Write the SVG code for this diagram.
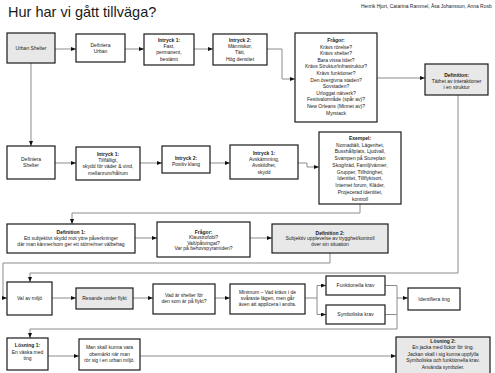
<svg xmlns="http://www.w3.org/2000/svg" width="495" height="373" viewBox="0 0 495 373">
<style>
.box{fill:#fff;stroke:#1a1a1a;stroke-width:1.2}
.g{fill:#e8e8e8}
text{font-family:"Liberation Sans",Arial,sans-serif;fill:#1a1a1a}
.t{font-size:5px;text-anchor:middle}
.b{font-weight:bold}
.c{fill:none;stroke:#8c8c8c;stroke-width:1}
</style>
<defs>
<marker id="a" markerUnits="userSpaceOnUse" markerWidth="5" markerHeight="4" refX="5" refY="2" orient="auto">
<path d="M0,0 L5,2 L0,4 Z" fill="#111"/>
</marker>
</defs>
<rect width="495" height="373" fill="#fff"/>
<text x="8" y="17" font-size="14.5">Hur har vi gått tillväga?</text>
<text x="361" y="8" font-size="4.95">Henrik Hjort, Catarina Rammel, Åsa Johansson, Anna Rosb</text>

<g id="connectors">
<path class="c" d="M55,49 H76" marker-end="url(#a)"/>
<path class="c" d="M125,49 H144" marker-end="url(#a)"/>
<path class="c" d="M194,49 H213" marker-end="url(#a)"/>
<path class="c" d="M267,49 H282 V79 H295" marker-end="url(#a)"/>
<path class="c" d="M377,78 H425" marker-end="url(#a)"/>
<path class="c" d="M31,63 V146" marker-end="url(#a)"/>
<path class="c" d="M55,163 H76" marker-end="url(#a)"/>
<path class="c" d="M140,163 H162" marker-end="url(#a)"/>
<path class="c" d="M210,163 H230" marker-end="url(#a)"/>
<path class="c" d="M298,163 H307 V167 H319" marker-end="url(#a)"/>
<path class="c" d="M360,204 V213 H72 V224" marker-end="url(#a)"/>
<path class="c" d="M135,238 H157" marker-end="url(#a)"/>
<path class="c" d="M250,238 H272" marker-end="url(#a)"/>
<path class="c" d="M330,253 V263 H3 V298 H7" marker-end="url(#a)"/>
<path class="c" d="M458,95 V273 H30 V282" marker-end="url(#a)"/>
<path class="c" d="M52,298 H76" marker-end="url(#a)"/>
<path class="c" d="M133,298 H153" marker-end="url(#a)"/>
<path class="c" d="M215,298 H230" marker-end="url(#a)"/>
<path class="c" d="M305,298 H317 V285.5 H326" marker-end="url(#a)"/>
<path class="c" d="M317,298 V314.5 H326" marker-end="url(#a)"/>
<path class="c" d="M385,285.5 H397 V329 H30 V338" marker-end="url(#a)"/>
<path class="c" d="M385,314.5 H397"/>
<path class="c" d="M397,298 H408" marker-end="url(#a)"/>
<path class="c" d="M48,356 H79" marker-end="url(#a)"/>
<path class="c" d="M140,356 H396" marker-end="url(#a)"/>
</g>

<g id="urban-shelter"><rect class="box g" x="7" y="33" width="48" height="30"/><text class="t" x="31" y="50">Urban Shelter</text></g>
<g id="definiera-urban"><rect class="box" x="76" y="34" width="49" height="28"/><text class="t" x="100.5" y="46.5">Definiera</text><text class="t" x="100.5" y="52.5">Urban</text></g>
<g id="intryck1-urban"><rect class="box" x="144" y="34" width="50" height="31"/><text class="t b" x="169" y="42">Intryck 1:</text><text class="t" x="169" y="48.2">Fast,</text><text class="t" x="169" y="54.4">permanent,</text><text class="t" x="169" y="60.6">bestämt</text></g>
<g id="intryck2-urban"><rect class="box" x="213" y="34" width="54" height="31"/><text class="t b" x="240" y="42">Intryck 2:</text><text class="t" x="240" y="48.2">Människor,</text><text class="t" x="240" y="54.4">Tätt,</text><text class="t" x="240" y="60.6">Hög densitet</text></g>
<g id="fragor1"><rect class="box" x="295" y="33" width="82" height="89"/>
<text class="t b" x="336" y="42">Frågor:</text>
<text class="t" x="336" y="48.6">Krävs rörelse?</text>
<text class="t" x="336" y="55.2">Krävs shelter?</text>
<text class="t" x="336" y="61.8">Bara vissa tider?</text>
<text class="t" x="336" y="68.4">Krävs Struktur/infrastruktur?</text>
<text class="t" x="336" y="75">Krävs funktioner?</text>
<text class="t" x="336" y="81.6">Den övergivna staden?</text>
<text class="t" x="336" y="88.2">Sovstaden?</text>
<text class="t" x="336" y="94.8">Urloggat nätverk?</text>
<text class="t" x="336" y="101.4">Festivalområde (spår av)?</text>
<text class="t" x="336" y="108">New Orleans (Minnet av)?</text>
<text class="t" x="336" y="114.6">Myrstack</text></g>
<g id="definition"><rect class="box g" x="425" y="64" width="63" height="31"/><text class="t b" x="456.5" y="77">Definition:</text><text class="t" x="456.5" y="83">Täthet av interaktioner</text><text class="t" x="456.5" y="89">i en struktur</text></g>

<g id="definiera-shelter"><rect class="box" x="7" y="146" width="48" height="33"/><text class="t" x="31" y="161">Definiera</text><text class="t" x="31" y="167">Shelter</text></g>
<g id="intryck1-shelter"><rect class="box" x="76" y="147" width="64" height="33"/><text class="t b" x="108" y="156">Intryck 1:</text><text class="t" x="108" y="162.2">Tillfälligt,</text><text class="t" x="108" y="168.4">skydd för väder &amp; vind,</text><text class="t" x="108" y="174.6">mellanrum/hålrum</text></g>
<g id="intryck2-shelter"><rect class="box" x="162" y="146" width="48" height="27"/><text class="t b" x="186" y="159.5">Intryck 2:</text><text class="t" x="186" y="165.5">Positiv klang</text></g>
<g id="intryck1b-shelter"><rect class="box" x="230" y="145" width="68" height="34"/><text class="t b" x="264" y="155">Intryck 1:</text><text class="t" x="264" y="161.2">Avskärmning,</text><text class="t" x="264" y="167.4">Avskildhet,</text><text class="t" x="264" y="173.6">skydd</text></g>
<g id="exempel"><rect class="box" x="319" y="132" width="82" height="72"/>
<text class="t b" x="360" y="139.7">Exempel:</text>
<text class="t" x="360" y="146.5">Nomadtält, Lägenhet,</text>
<text class="t" x="360" y="153.2">Busshållplats, Ljudvall,</text>
<text class="t" x="360" y="160">Svampen på Stureplan</text>
<text class="t" x="360" y="166.7">Skog/träd, Familj/vänner,</text>
<text class="t" x="360" y="173.5">Grupper, Tillhörighet,</text>
<text class="t" x="360" y="180.2">Identitet, Tillflyktsort,</text>
<text class="t" x="360" y="187">Internet forum, Kläder,</text>
<text class="t" x="360" y="193.7">Projecerad identitet,</text>
<text class="t" x="360" y="200.5">kontroll</text></g>

<g id="definition1"><rect class="box" x="7" y="224" width="128" height="29"/><text class="t b" x="71" y="233.7">Definition 1:</text><text class="t" x="71" y="239.7">Ett subjektivt skydd mot yttre påverkninger</text><text class="t" x="71" y="245.7">där man känner/som ger ett större/mer välbehag</text></g>
<g id="fragor2"><rect class="box" x="157" y="222" width="93" height="35"/><text class="t b" x="203.5" y="233.5">Frågor:</text><text class="t" x="203.5" y="239">Klaustrofobi?</text><text class="t" x="203.5" y="244.5">Valt/påtvingat?</text><text class="t" x="203.5" y="250">Var på behovspyramiden?</text></g>
<g id="definition2"><rect class="box g" x="272" y="224" width="116" height="29"/><text class="t b" x="330" y="234.5">Definition 2:</text><text class="t" x="330" y="240">Subjektiv upplevelse av trygghet/kontroll</text><text class="t" x="330" y="245.5">över sin situation</text></g>

<g id="val-av-miljo"><rect class="box" x="7" y="282" width="45" height="33"/><text class="t" x="29.5" y="300">Val av miljö</text></g>
<g id="resande"><rect class="box g" x="76" y="288" width="57" height="21"/><text class="t" x="104.5" y="300">Resande under flykt</text></g>
<g id="vad-ar-shelter"><rect class="box" x="153" y="284" width="62" height="30"/><text class="t" x="184" y="297">Vad är shelter för</text><text class="t" x="184" y="303">den som är på flykt?</text></g>
<g id="minimum"><rect class="box" x="230" y="284" width="75" height="30"/><text class="t" x="267.5" y="294">Minimum – Vad krävs i de</text><text class="t" x="267.5" y="300">svåraste lägen, men går</text><text class="t" x="267.5" y="306">även att applicera i andra.</text></g>
<g id="funktionella"><rect class="box" x="326" y="276" width="59" height="19"/><text class="t" x="355.5" y="287.3">Funktionella krav</text></g>
<g id="symboliska"><rect class="box" x="326" y="305" width="59" height="19"/><text class="t" x="355.5" y="316.3">Symboliska krav</text></g>
<g id="identifiera"><rect class="box" x="408" y="288" width="52" height="22"/><text class="t" x="434" y="300.5">Identifiera ting</text></g>

<g id="losning1"><rect class="box" x="7" y="338" width="41" height="32"/><text class="t b" x="27.5" y="347">Lösning 1:</text><text class="t" x="27.5" y="353.5">En väska med</text><text class="t" x="27.5" y="360">ting</text></g>
<g id="man-skall"><rect class="box" x="79" y="339" width="61" height="31"/><text class="t" x="109.5" y="349">Man skall kunna vara</text><text class="t" x="109.5" y="355.5">obemärkt när man</text><text class="t" x="109.5" y="362">rör sig i en urban miljö.</text></g>
<g id="losning2"><rect class="box g" x="396" y="337" width="94" height="45"/><text class="t b" x="443" y="342.5">Lösning 2:</text><text class="t" x="443" y="349">En jacka med fickor för ting.</text><text class="t" x="443" y="355.5">Jackan skall i sig kunna uppfylla</text><text class="t" x="443" y="362">Symboliska och funktionella krav.</text><text class="t" x="443" y="368.5">Använda symboler.</text></g>
</svg>
